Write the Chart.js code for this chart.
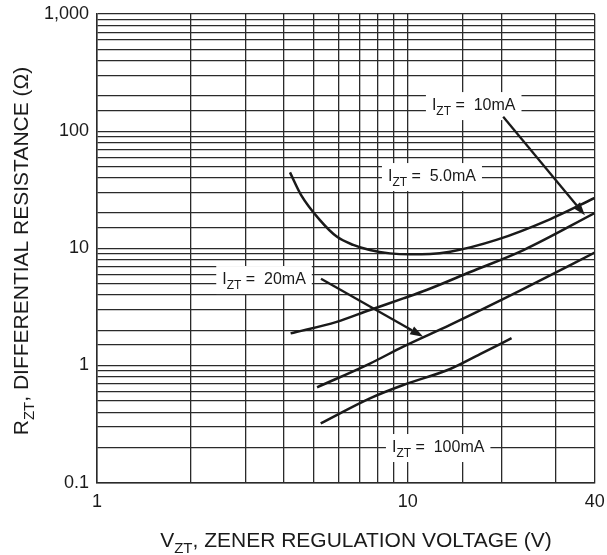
<!DOCTYPE html>
<html><head><meta charset="utf-8">
<script src="https://cdn.jsdelivr.net/npm/chart.js@4/dist/chart.umd.min.js"></script>
<style>html,body{margin:0;padding:0;background:#fff}#wrap{width:607px;height:555px;position:relative}</style>
</head><body><div id="wrap"><canvas id="c" width="607" height="555"></canvas></div>
<script>
// ---- data ----
const v5mA   = [4.18, 4.54, 5.22, 5.91, 6.68, 7.56, 8.77, 10.17, 11.8, 13.7, 19.3, 28.7, 40];
const r5mA   = [44.5, 28.5, 17.4, 12.6, 10.7, 9.67, 9.06, 8.89, 8.93, 9.35, 11.8, 17.7, 26.9];
const v10mA  = [4.20, 5.91, 7.56, 9.68, 11.5, 15.9, 23.6, 40];
const r10mA  = [1.88, 2.36, 2.98, 3.74, 4.41, 6.28, 9.67, 20.0];
const v20mA  = [5.11, 7.56, 9.68, 13.7, 23.0, 40];
const r20mA  = [0.652, 1.04, 1.45, 2.22, 4.35, 9.2];
const v100mA = [5.25, 7.56, 9.68, 13.7, 17.1, 21.6];
const r100mA = [0.321, 0.525, 0.682, 0.934, 1.25, 1.71];
const xTickLabels = {1: '1', 10: '10', 40: '40'};
const yTickLabels = {'-1': '0.1', '0': '1', '1': '10', '2': '100', '3': '1,000'};
const curveNames = ['5.0mA', '10mA', '20mA', '100mA'];

const toXY = (xs, ys) => xs.map((x, i) => ({x, y: ys[i]}));

// annotation placement (data coordinates)
const annLabels = [
  {name: '10mA',  at: [11.97, 167]},
  {name: '5.0mA', at: [8.64, 41.4]},
  {name: '20mA',  at: [2.53, 5.47]},
  {name: '100mA', at: [8.90, 0.2016]}
];
const annArrows = [
  {from: [20.3, 132.7], to: [37.2, 19.2]},
  {from: [5.26, 5.51],  to: [11.22, 1.76]}
];

const FONT = '"Liberation Sans", Arial, Helvetica, sans-serif';
const INK = '#1a1a1a';

function measureRich(ctx, parts, size) {
  const subSize = Math.round(size * 0.72);
  let w = 0;
  parts.forEach(([t, s]) => { ctx.font = (s ? subSize : size) + 'px ' + FONT; w += ctx.measureText(t).width; });
  return w;
}
function drawRich(ctx, parts, size, x, y, align) {
  const subSize = Math.round(size * 0.72);
  const w = measureRich(ctx, parts, size);
  let cx = align === 'center' ? x - w / 2 : x;
  ctx.textAlign = 'left';
  ctx.textBaseline = 'alphabetic';
  parts.forEach(([t, s]) => {
    ctx.font = (s ? subSize : size) + 'px ' + FONT;
    ctx.fillText(t, cx, y + (s ? size * 0.3 : 0));
    cx += ctx.measureText(t).width;
  });
  return w;
}

const annotate = {
  id: 'annotate',
  afterDatasetsDraw(chart) {
    const ctx = chart.ctx, xs = chart.scales.x, ys = chart.scales.y;
    const P = (p) => [xs.getPixelForValue(p[0]), ys.getPixelForValue(p[1])];
    ctx.save();
    annLabels.forEach(l => {
      const [x, y] = P(l.at);
      const size = 16;
      const parts = [['I', false], ['ZT', true], [' =  ' + l.name, false]];
      const w = measureRich(ctx, parts, size);
      ctx.fillStyle = '#fff';
      ctx.fillRect(x - 6, y - 13, w + 12, 28);
      ctx.fillStyle = INK;
      drawRich(ctx, parts, size, x, y + 5, 'left');
    });
    ctx.fillStyle = INK; ctx.strokeStyle = INK;
    ctx.lineWidth = 2.3;
    annArrows.forEach(a => {
      const [x1, y1] = P(a.from), [x2, y2] = P(a.to);
      const ang = Math.atan2(y2 - y1, x2 - x1);
      const L = 13, W = 4.5;
      const bx = x2 - L * Math.cos(ang), by = y2 - L * Math.sin(ang);
      ctx.beginPath(); ctx.moveTo(x1, y1); ctx.lineTo(bx, by); ctx.stroke();
      ctx.beginPath();
      ctx.moveTo(x2, y2);
      ctx.lineTo(bx + W * Math.sin(ang), by - W * Math.cos(ang));
      ctx.lineTo(bx - W * Math.sin(ang), by + W * Math.cos(ang));
      ctx.closePath(); ctx.fill();
    });
    ctx.restore();
  },
  afterDraw(chart) {
    const ctx = chart.ctx;
    ctx.save();
    ctx.fillStyle = INK;
    drawRich(ctx, [['V', false], ['ZT', true], [', ZENER REGULATION VOLTAGE (V)', false]], 21, 356, 547, 'center');
    ctx.translate(28, 251);
    ctx.rotate(-Math.PI / 2);
    drawRich(ctx, [['R', false], ['ZT', true], [', DIFFERENTIAL RESISTANCE (\u03A9)', false]], 21, 0, 0, 'center');
    ctx.restore();
  }
};

const lineDs = (label, xs, ys) => ({
  label, data: toXY(xs, ys), borderColor: INK, borderWidth: 2.5,
  pointRadius: 0, showLine: true, fill: false, cubicInterpolationMode: 'monotone'
});

new Chart(document.getElementById('c'), {
  type: 'scatter',
  data: {
    datasets: [
      lineDs(curveNames[0], v5mA, r5mA),
      lineDs(curveNames[1], v10mA, r10mA),
      lineDs(curveNames[2], v20mA, r20mA),
      lineDs(curveNames[3], v100mA, r100mA)
    ]
  },
  options: {
    responsive: false, animation: false, devicePixelRatio: 1,
    layout: {padding: {left: 0, top: 14, right: 12.3, bottom: 0}},
    plugins: {legend: {display: false}, tooltip: {enabled: false}},
    scales: {
      x: {
        type: 'logarithmic', min: 1, max: 40,
        afterFit: s => { s.height = 72.3; s.paddingLeft = 0; s.paddingRight = 0; },
        grid: {color: '#2a2a2a', lineWidth: 1.3, drawTicks: false},
        border: {color: '#2a2a2a', width: 1.5},
        ticks: {
          autoSkip: false, maxRotation: 0, padding: 9, color: INK,
          font: {size: 18, family: FONT},
          callback: v => xTickLabels[Math.round(v * 1000) / 1000] || ''
        }
      },
      y: {
        type: 'logarithmic', min: 0.1, max: 1000,
        afterFit: s => { s.width = 97; s.paddingTop = 0; s.paddingBottom = 0; },
        grid: {color: '#2a2a2a', lineWidth: 1.3, drawTicks: false},
        border: {color: '#2a2a2a', width: 1.5},
        ticks: {
          autoSkip: false, padding: 8, color: INK,
          font: {size: 18, family: FONT},
          callback: v => {
            const l = Math.log10(v), r = Math.round(l);
            return Math.abs(l - r) < 1e-6 ? (yTickLabels[String(r)] || '') : '';
          }
        }
      }
    }
  },
  plugins: [annotate]
});
</script>
</body></html>
